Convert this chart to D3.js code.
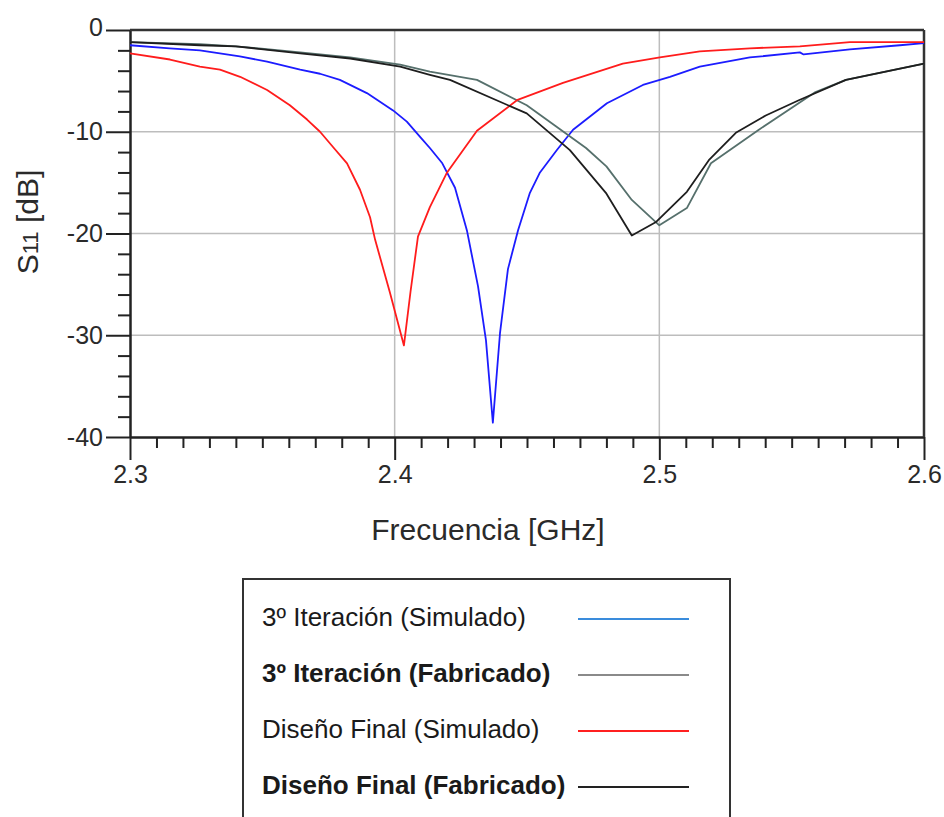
<!DOCTYPE html>
<html>
<head>
<meta charset="utf-8">
<script src="https://cdn.jsdelivr.net/npm/d3@7"></script>
<style>
  html, body { margin: 0; padding: 0; background: #ffffff; }
  svg { display: block; }
  text { font-family: "Liberation Sans", Arial, sans-serif; }
</style>
</head>
<body>
<svg id="chart" width="944" height="817"></svg>
<script>
// ---- Data ----
const xTicksMajor = [2.3, 2.4, 2.5, 2.6];
const yTicksMajor = [0, -10, -20, -30, -40];
const xTickLabels = ["2.3", "2.4", "2.5", "2.6"];
const yTickLabels = ["0", "-10", "-20", "-30", "-40"];

// 3º Iteración (Simulado)
const freqIterSim = [2.300, 2.315, 2.3264, 2.3415, 2.3518, 2.3643, 2.3718, 2.3793, 2.3895, 2.3994, 2.4046, 2.4096, 2.4133, 2.418, 2.4228, 2.4273, 2.4315, 2.4345, 2.4371, 2.4398, 2.4428, 2.4466, 2.4511, 2.4549, 2.4613, 2.4674, 2.4802, 2.4938, 2.504, 2.5153, 2.5342, 2.5531, 2.5545, 2.572, 2.5909, 2.600];
const dbIterSim   = [-1.5, -1.8, -2.0, -2.6, -3.1, -3.9, -4.3, -4.9, -6.2, -7.9, -9.0, -10.5, -11.6, -13.1, -15.5, -19.7, -25.2, -30.5, -38.6, -29.8, -23.5, -19.7, -16.0, -14.0, -11.8, -9.8, -7.2, -5.4, -4.6, -3.6, -2.7, -2.2, -2.4, -1.9, -1.5, -1.3];

// 3º Iteración (Fabricado)
const freqIterFab = [2.300, 2.3264, 2.340, 2.3643, 2.3832, 2.4021, 2.4133, 2.4311, 2.4499, 2.4723, 2.480, 2.4896, 2.500, 2.5104, 2.5195, 2.5376, 2.559, 2.5705, 2.600];
const dbIterFab   = [-1.2, -1.4, -1.6, -2.2, -2.7, -3.4, -4.1, -4.9, -7.4, -11.6, -13.4, -16.7, -19.2, -17.5, -13.1, -9.8, -6.1, -4.9, -3.3];

// Diseño Final (Simulado)
const freqFinalSim = [2.300, 2.3151, 2.3264, 2.334, 2.3416, 2.3518, 2.3604, 2.3669, 2.3718, 2.3767, 2.382, 2.3869, 2.3907, 2.3926, 2.3982, 2.4035, 2.406, 2.4088, 2.4133, 2.4198, 2.4311, 2.4462, 2.4636, 2.4862, 2.5002, 2.5153, 2.5342, 2.5531, 2.572, 2.600];
const dbFinalSim   = [-2.3, -2.9, -3.6, -3.9, -4.6, -5.9, -7.4, -8.8, -10.0, -11.5, -13.1, -15.7, -18.4, -20.6, -25.8, -31.0, -25.7, -20.3, -17.4, -14.0, -9.9, -6.9, -5.2, -3.3, -2.7, -2.1, -1.8, -1.6, -1.2, -1.2];

// Diseño Final (Fabricado)
const freqFinalFab = [2.300, 2.3264, 2.340, 2.3643, 2.3832, 2.4021, 2.4133, 2.4209, 2.4499, 2.4662, 2.4798, 2.4896, 2.4986, 2.5104, 2.5187, 2.5289, 2.5402, 2.5527, 2.5705, 2.600];
const dbFinalFab   = [-1.2, -1.5, -1.6, -2.3, -2.8, -3.6, -4.4, -4.9, -8.2, -11.8, -16.0, -20.2, -18.9, -15.9, -12.8, -10.1, -8.4, -6.9, -4.9, -3.3];

const seriesNames  = ["3º Iteración (Simulado)", "3º Iteración (Fabricado)", "Diseño Final (Simulado)", "Diseño Final (Fabricado)"];
const seriesBold   = [false, true, false, true];
const seriesColors = ["#1c1cff", "#56706c", "#ff1c1c", "#1e1e1e"];
const legendColors = ["#3a8cdc", "#8a8a8a", "#ff2020", "#222222"];

// ---- Layout ----
const svg = d3.select("#chart");
const L = 130, R = 924, T = 30, B = 437;

const x = d3.scaleLinear().domain([2.3, 2.6]).range([L, R]);
const y = d3.scaleLinear().domain([0, -40]).range([T, B]);

// Gridlines
const grid = svg.append("g");
grid.selectAll("line.gx").data([2.4, 2.5]).join("line")
  .attr("x1", d => x(d)).attr("x2", d => x(d)).attr("y1", T).attr("y2", B)
  .attr("stroke", "#bdbdbd").attr("stroke-width", 1.5);
grid.selectAll("line.gy").data([-10, -20, -30]).join("line")
  .attr("x1", L).attr("x2", R).attr("y1", d => y(d)).attr("y2", d => y(d))
  .attr("stroke", "#bdbdbd").attr("stroke-width", 1.5);

// Minor ticks
const xMinor = d3.range(0, 31).map(i => 2.3 + i * 0.01).filter((d, i) => i % 10 !== 0);
const yMinor = d3.range(0, 21).map(i => -2 * i).filter((d, i) => i % 5 !== 0);

const xMinorAxis = d3.axisBottom(x).tickValues(xMinor).tickSize(11).tickSizeOuter(0).tickFormat("");
const yMinorAxis = d3.axisLeft(y).tickValues(yMinor).tickSize(12).tickSizeOuter(0).tickFormat("");
svg.append("g").attr("transform", `translate(0,${B})`).call(xMinorAxis);
svg.append("g").attr("transform", `translate(${L},0)`).call(yMinorAxis);

// Major axes
const xAxis = d3.axisBottom(x).tickValues(xTicksMajor).tickSize(23).tickSizeOuter(0).tickPadding(5)
  .tickFormat((d, i) => xTickLabels[i]);
const yAxis = d3.axisLeft(y).tickValues(yTicksMajor).tickSize(24).tickSizeOuter(0).tickPadding(3)
  .tickFormat((d, i) => yTickLabels[i]);
const gx = svg.append("g").attr("transform", `translate(0,${B})`).call(xAxis);
const gy = svg.append("g").attr("transform", `translate(${L},0)`).call(yAxis);

svg.selectAll(".domain").attr("stroke", "#222").attr("stroke-width", 2);
svg.selectAll(".tick line").attr("stroke", "#222").attr("stroke-width", 2);
gx.selectAll("text").attr("font-size", 25).attr("fill", "#2a2a2a").attr("font-family", "Liberation Sans, Arial, sans-serif");
gy.selectAll("text").attr("font-size", 25).attr("fill", "#2a2a2a").attr("font-family", "Liberation Sans, Arial, sans-serif");
gy.selectAll(".tick").filter(d => d === 0).select("text").attr("dy", "0.2em");

// Frame top & right
svg.append("line").attr("x1", L).attr("x2", R).attr("y1", T).attr("y2", T)
  .attr("stroke", "#333").attr("stroke-width", 2.5);
svg.append("line").attr("x1", R).attr("x2", R).attr("y1", T).attr("y2", B)
  .attr("stroke", "#333").attr("stroke-width", 2.5);

// Curves
const seriesData = [
  d3.zip(freqIterSim, dbIterSim),
  d3.zip(freqIterFab, dbIterFab),
  d3.zip(freqFinalSim, dbFinalSim),
  d3.zip(freqFinalFab, dbFinalFab)
];
const line = d3.line().x(d => x(d[0])).y(d => y(d[1]));
svg.append("g").selectAll("path").data(seriesData).join("path")
  .attr("d", line)
  .attr("fill", "none")
  .attr("stroke", (d, i) => seriesColors[i])
  .attr("stroke-width", 1.8)
  .attr("stroke-linejoin", "round");

// Axis titles
svg.append("text").attr("x", 488).attr("y", 540).attr("text-anchor", "middle")
  .attr("font-size", 30).attr("fill", "#2a2a2a").text("Frecuencia [GHz]");

const yt = svg.append("text").attr("transform", "translate(38,222) rotate(-90)")
  .attr("text-anchor", "middle").attr("fill", "#2a2a2a").attr("font-size", 30);
yt.append("tspan").text("S");
yt.append("tspan").attr("font-size", 22).text("11");
yt.append("tspan").text(" [dB]");

// Legend
const lg = svg.append("g");
lg.append("rect").attr("x", 243).attr("y", 579).attr("width", 487).attr("height", 260)
  .attr("fill", "#fff").attr("stroke", "#333").attr("stroke-width", 2);
const rowsY = [619, 675, 731, 787];
const rows = lg.selectAll("g.row").data(seriesNames).join("g")
  .attr("transform", (d, i) => `translate(0,${rowsY[i]})`);
rows.append("text").attr("x", 262).attr("y", 7)
  .attr("font-size", 26)
  .attr("font-weight", (d, i) => seriesBold[i] ? "bold" : "normal")
  .attr("fill", "#1a1a1a")
  .text(d => d);
rows.append("line").attr("x1", 578).attr("x2", 689).attr("y1", 0).attr("y2", 0)
  .attr("stroke", (d, i) => legendColors[i]).attr("stroke-width", 2);
</script>
</body>
</html>
